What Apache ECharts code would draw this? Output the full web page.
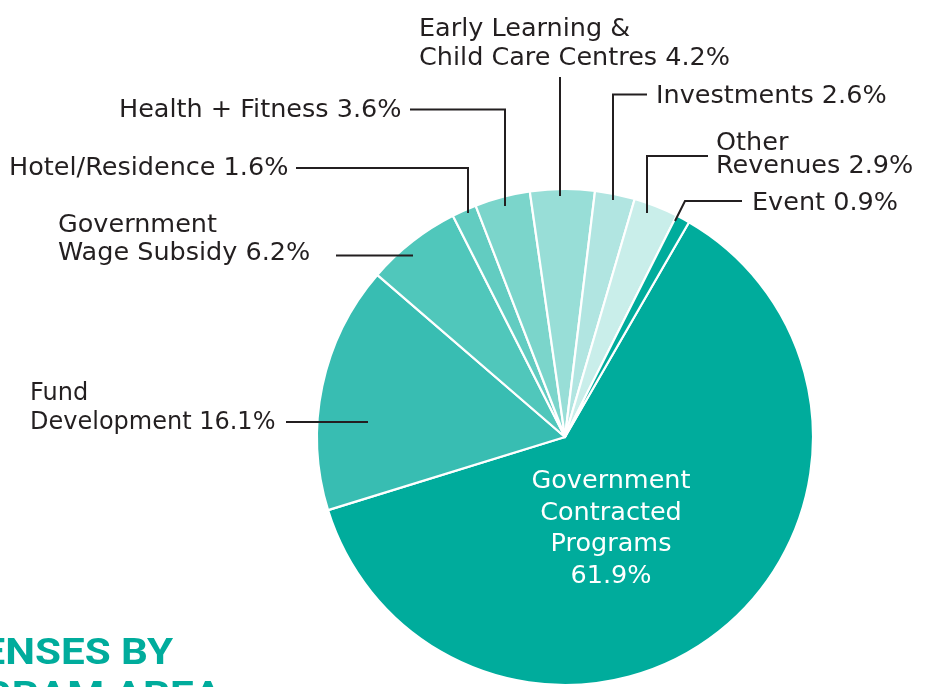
<!DOCTYPE html>
<html>
<head>
<meta charset="utf-8">
<script src="https://cdn.jsdelivr.net/npm/echarts@6/dist/echarts.min.js"></script>
<style>
html,body{margin:0;padding:0;background:#fff;}
#chart{width:932px;height:687px;}
</style>
</head>
<body>
<div id="chart"></div>
<script>
// ---- data ----
var categories = [
  'Government\nContracted\nPrograms',
  'Fund\nDevelopment',
  'Government\nWage Subsidy',
  'Hotel/Residence',
  'Health + Fitness',
  'Early Learning &\nChild Care Centres',
  'Investments',
  'Other\nRevenues',
  'Event'
];
var values = [61.9, 16.1, 6.2, 1.6, 3.6, 4.2, 2.6, 2.9, 0.9];
var colors = ['#00ac9c', '#38bdb2', '#50c7bb', '#62ccc1', '#7bd5cb', '#98ded7', '#b1e5e1', '#c9eeea', '#00ac9c'];

// ---- label layout (positions / styles only) ----
var labelPos = [
  {x: 611, y: 529, align: 'center', lh: 31.7, fs: 25.5},
  {x: 30, y: 408.5, align: 'left', lh: 29, fs: 24},
  {x: 58, y: 239, align: 'left', lh: 28, fs: 25.5},
  {x: 9, y: 168, align: 'left', lh: 28, fs: 25.5},
  {x: 119, y: 110.5, align: 'left', lh: 28, fs: 25.5},
  {x: 419, y: 44, align: 'left', lh: 29.5, fs: 25.5},
  {x: 656, y: 96, align: 'left', lh: 28, fs: 25.5},
  {x: 716, y: 154.5, align: 'left', lh: 23, fs: 25.5},
  {x: 752, y: 203.5, align: 'left', lh: 28, fs: 25.5}
];
var guides = [
  null,
  [[286, 422], [368, 422]],
  [[336, 255.5], [413, 255.5]],
  [[296, 168], [468, 168], [468, 213]],
  [[410, 109.5], [505, 109.5], [505, 206]],
  [[560, 77], [560, 196]],
  [[647, 94.5], [613, 94.5], [613, 200]],
  [[708, 156], [647, 156], [647, 213]],
  [[742, 201], [685, 201], [675, 221]]
];

var seriesData = categories.map(function (name, i) {
  var item = {
    name: name,
    value: values[i],
    itemStyle: {color: colors[i]},
    label: {lineHeight: labelPos[i].lh, fontSize: labelPos[i].fs}
  };
  if (i === 0) {
    item.label.position = 'inside';
    item.label.color = '#ffffff';
  }
  return item;
});

var graphics = [
  {type: 'text', x: 173, y: 655, scaleX: 1.14, z: 10,
   style: {text: 'EXPENSES BY', fill: '#00ac9c', font: 'bold 37px "Roboto"', textAlign: 'right', textVerticalAlign: 'middle'}},
  {type: 'text', x: 222, y: 698, scaleX: 1.14, z: 10,
   style: {text: 'PROGRAM AREA', fill: '#00ac9c', font: 'bold 37px "Roboto"', textAlign: 'right', textVerticalAlign: 'middle'}}
];
guides.forEach(function (pts) {
  if (!pts) return;
  graphics.push({type: 'polyline', z: 100, silent: true,
    shape: {points: pts}, style: {stroke: '#231f20', lineWidth: 2, fill: null}});
});

var chart = echarts.init(document.getElementById('chart'), null, {renderer: 'canvas'});
chart.setOption({
  animation: false,
  backgroundColor: '#ffffff',
  graphic: graphics,
  series: [{
    type: 'pie',
    center: [565, 437],
    radius: [0, 248],
    startAngle: 60,
    clockwise: true,
    avoidLabelOverlap: false,
    itemStyle: {borderColor: '#ffffff', borderWidth: 2.2},
    label: {
      show: true,
      position: 'outside',
      color: '#231f20',
      fontFamily: 'DejaVu Sans',
      formatter: function (p) {
        var v = p.value.toFixed(1) + '%';
        return p.dataIndex === 0 ? p.name + '\n' + v : p.name + ' ' + v;
      }
    },
    labelLine: {show: false},
    labelLayout: function (params) {
      var lp = labelPos[params.dataIndex];
      return {x: lp.x, y: lp.y, align: lp.align, verticalAlign: 'middle'};
    },
    emphasis: {disabled: true},
    data: seriesData
  }]
});
</script>
</body>
</html>
